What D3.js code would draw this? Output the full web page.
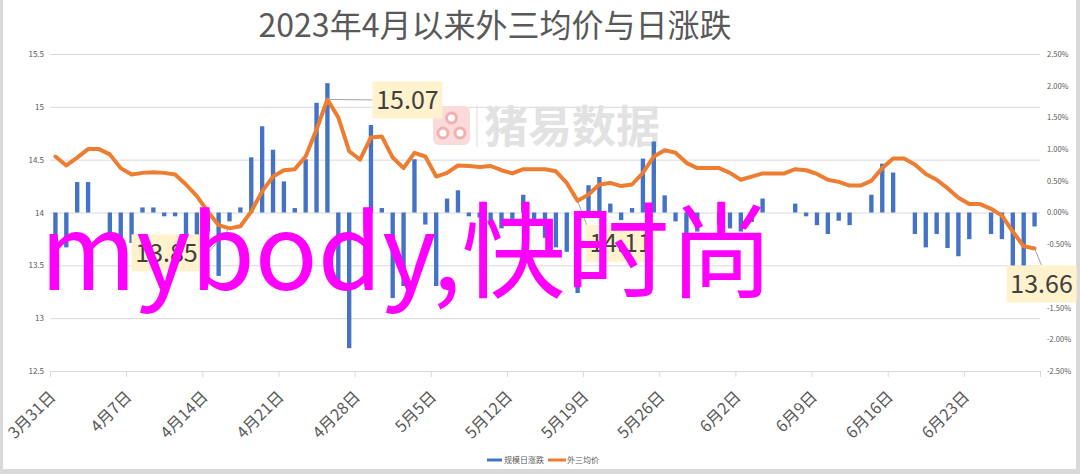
<!DOCTYPE html>
<html><head><meta charset="utf-8">
<script src="https://cdn.jsdelivr.net/npm/d3@7"></script>
<style>
html,body{margin:0;padding:0;background:#fff;}
svg{display:block;}
</style></head>
<body>
<svg id="c" width="1080" height="474"></svg>
<script>
// ---------- data ----------
const title = "2023年4月以来外三均价与日涨跌";
const seriesNames = ["规模日涨跌", "外三均价"];
const startDay = new Date(2023, 2, 31);
const endDay = new Date(2023, 5, 30); // exclusive
const tickLabels = ["3月31日","4月7日","4月14日","4月21日","4月28日","5月5日","5月12日","5月19日","5月26日","6月2日","6月9日","6月16日","6月23日"];
const leftTicks = [12.5, 13, 13.5, 14, 14.5, 15, 15.5];
const rightTicks = [-2.5, -2, -1.5, -1, -0.5, 0, 0.5, 1, 1.5, 2, 2.5];
// daily change of scale farms (%)
const dailyChange = [
 -0.6,-0.55,0.48,0.48,0,-0.35,-0.5,-0.48,0.08,0.08,
 -0.06,-0.06,-0.55,-0.65,-0.3,-1.0,-0.14,0.08,0.87,1.36,
 0.99,0.49,0.07,0.84,1.73,2.04,-1.19,-2.14,0,1.38,
 0.07,-1.35,-1.16,0.84,-0.19,-1.16,0.22,0.35,-0.06,-0.08,
 -0.2,-0.25,-0.1,0.28,-0.15,-0.4,-0.55,-0.62,-1.27,0.43,
 0.56,0.14,-0.12,0.07,0.85,1.12,0.27,-0.14,-0.35,-0.3,
 0,-0.2,-0.25,-0.3,-0.15,0.22,0,0,0.14,-0.06,
 -0.2,-0.34,-0.13,-0.2,0,0.28,0.77,0.63,0,-0.34,
 -0.55,-0.34,-0.56,-0.69,-0.42,0,-0.34,-0.42,-0.85,-0.85,
 -0.22];
// average price of outer-three-breed hogs
const avgPrice = [
 14.53,14.445,14.52,14.60,14.60,14.55,14.42,14.36,14.375,14.38,
 14.375,14.36,14.265,14.155,14.01,13.88,13.85,13.87,14.01,14.2,
 14.34,14.40,14.41,14.53,14.785,15.07,14.9,14.58,14.50,14.71,
 14.72,14.52,14.42,14.565,14.53,14.34,14.375,14.445,14.44,14.43,
 14.44,14.40,14.37,14.41,14.41,14.41,14.39,14.28,14.11,14.17,
 14.265,14.28,14.25,14.265,14.375,14.53,14.59,14.565,14.47,14.42,
 14.42,14.42,14.375,14.31,14.34,14.37,14.37,14.37,14.41,14.40,
 14.365,14.31,14.29,14.255,14.255,14.30,14.42,14.51,14.51,14.455,
 14.365,14.31,14.23,14.14,14.08,14.08,14.035,13.97,13.82,13.68,
 13.66];
const labelled = [16, 25, 48, 90]; // points with data labels

// ---------- setup ----------
const days = d3.timeDay.range(startDay, endDay);
const svg = d3.select("#c");
const L = 50, R = 1040, T = 54, B = 371;
const font = "'Noto Sans CJK SC','Noto Sans',sans-serif";
const grey = "#595959", gridC = "#d9d9d9";

const x = d3.scaleBand().domain(days.map((d,i)=>i)).range([L,R]).paddingInner(0.6).paddingOuter(0.3);
const xDay = d3.scaleLinear().domain([0, days.length]).range([L,R]);
const yL = d3.scaleLinear().domain([12.5,15.5]).range([B,T]);
const yR = d3.scaleLinear().domain([-2.5,2.5]).range([B,T]);

// frame
svg.append("rect").attr("x",0).attr("y",0).attr("width",3).attr("height",474).attr("fill","#d9d9d9");
svg.append("rect").attr("x",1076).attr("y",0).attr("width",4).attr("height",474).attr("fill","#d9d9d9");
svg.append("rect").attr("x",0).attr("y",469).attr("width",1080).attr("height",5).attr("fill","#d9d9d9");

// title
svg.append("text").attr("x",495).attr("y",37).attr("text-anchor","middle")
  .attr("font-family",font).attr("font-size",32).attr("fill",grey).text(title);

// gridlines + left axis
const gl = svg.append("g").attr("transform",`translate(${L},0)`)
  .call(d3.axisLeft(yL).tickValues(leftTicks).tickSize(-(R-L)).tickPadding(6).tickFormat(d=>String(d)));
gl.select(".domain").remove();
gl.selectAll(".tick line").attr("stroke",gridC).attr("stroke-width",1);
gl.selectAll(".tick text").attr("font-family",font).attr("font-size",8).attr("fill",grey);

// right axis
const gr = svg.append("g").attr("transform",`translate(${R},0)`)
  .call(d3.axisRight(yR).tickValues(rightTicks).tickSize(0).tickPadding(7).tickFormat(d=>d.toFixed(2)+"%"));
gr.select(".domain").remove();
gr.selectAll(".tick text").attr("font-family",font).attr("font-size",7.5).attr("fill",grey);

// watermark
const wm = svg.append("g");
wm.append("rect").attr("x",433).attr("y",106).attr("width",37).attr("height",39).attr("rx",6).attr("fill","#fadada");
wm.append("circle").attr("cx",451.5).attr("cy",118).attr("r",5).attr("fill","#fff").attr("stroke","#f2b0b0").attr("stroke-width",3);
wm.append("circle").attr("cx",443).attr("cy",133).attr("r",5).attr("fill","#fff").attr("stroke","#f2b0b0").attr("stroke-width",3);
wm.append("circle").attr("cx",460).attr("cy",133).attr("r",5).attr("fill","#fff").attr("stroke","#f2b0b0").attr("stroke-width",3);
wm.append("line").attr("x1",477).attr("x2",477).attr("y1",105).attr("y2",147).attr("stroke","#e6e6e6").attr("stroke-width",1.5);
wm.append("text").attr("x",484).attr("y",143).attr("font-family",font).attr("font-weight","bold")
  .attr("font-size",44).attr("fill","#e2e2e2").text("猪易数据");

// x axis
const gx = svg.append("g").attr("transform",`translate(0,${B})`)
  .call(d3.axisBottom(xDay).tickValues(d3.range(0, days.length+1, 7)).tickSize(6).tickFormat(""));
gx.selectAll("line,path").attr("stroke",gridC);
gx.select(".domain").attr("d",`M${L},0.5H${R}`);

svg.append("g").selectAll("text").data(tickLabels).join("text")
  .attr("transform",(t,k)=>`translate(${x(k*7)+x.bandwidth()/2+1},398) rotate(-45)`)
  .attr("text-anchor","end").attr("font-family",font).attr("font-size",16).attr("fill",grey)
  .text(t=>t);

// bars
svg.append("g").selectAll("rect").data(dailyChange).join("rect")
  .attr("x",(v,i)=>x(i)).attr("width",x.bandwidth())
  .attr("y",v=>yR(Math.max(0,v))).attr("height",v=>Math.abs(yR(v)-yR(0)))
  .attr("fill","#4472c4");

// line
const line = d3.line().x((v,i)=>x(i)+x.bandwidth()/2).y(v=>yL(v));
svg.append("path").datum(avgPrice).attr("d",line).attr("fill","none")
  .attr("stroke","#ed7d31").attr("stroke-width",4).attr("stroke-linejoin","round").attr("stroke-linecap","round");

// data labels
const boxOff = {16:[-98,6], 25:[45,-18], 48:[8,24], 90:[-28,17]};
const lg = svg.append("g");
labelled.forEach(i=>{
  const px = x(i)+x.bandwidth()/2, py = yL(avgPrice[i]);
  const bx = px+boxOff[i][0], by = py+boxOff[i][1], bw = 70, bh = 37;
  let lx, ly;
  if (i===16){ lx = bx+bw; ly = by+bh*0.7; }
  else if (i===25){ lx = bx; ly = by+bh*0.5; }
  else if (i===48){ lx = bx+1; ly = by; }
  else { lx = bx+bw*0.5; ly = by; }
  lg.append("line").attr("x1",px).attr("y1",py).attr("x2",lx).attr("y2",ly)
    .attr("stroke","#a6a6a6").attr("stroke-width",1);
  lg.append("rect").attr("x",bx).attr("y",by).attr("width",bw).attr("height",bh).attr("fill","#fff2cc");
  lg.append("text").attr("x",bx+bw/2).attr("y",by+bh/2+9).attr("text-anchor","middle")
    .attr("font-family",font).attr("font-size",25).attr("fill","#404040").text(avgPrice[i].toFixed(2));
});

// legend
const leg = svg.append("g");
leg.append("line").attr("x1",487).attr("x2",502).attr("y1",460).attr("y2",460).attr("stroke","#4472c4").attr("stroke-width",3);
leg.append("text").attr("x",504).attr("y",463).attr("font-family",font).attr("font-size",8).attr("fill",grey).text(seriesNames[0]);
leg.append("line").attr("x1",548).attr("x2",566).attr("y1",460).attr("y2",460).attr("stroke","#ed7d31").attr("stroke-width",3);
leg.append("text").attr("x",567).attr("y",463).attr("font-family",font).attr("font-size",8).attr("fill",grey).text(seriesNames[1]);

// overlay text
svg.append("text").attr("x",40).attr("y",290).attr("font-family",font).attr("font-size",104)
  .attr("fill","#ff00ff").text("mybody,快时尚");
</script>
</body></html>
